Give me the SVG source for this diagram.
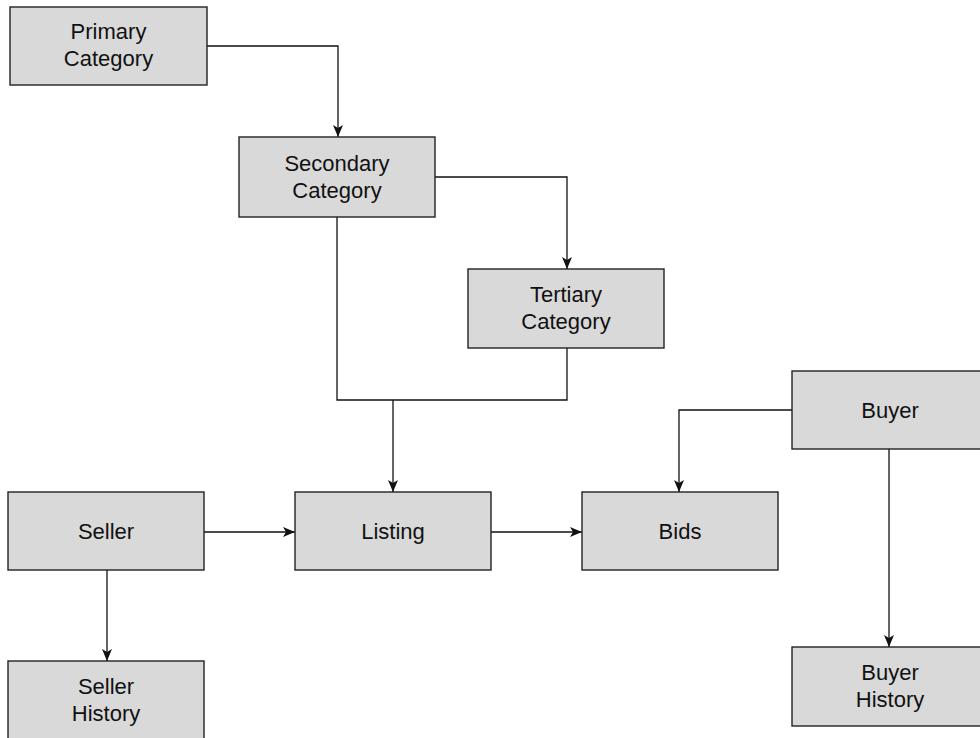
<svg xmlns="http://www.w3.org/2000/svg" width="980" height="738" viewBox="0 0 980 738">
<defs>
<marker id="arr" viewBox="0 0 12 10" refX="12" refY="5" markerWidth="12" markerHeight="10" markerUnits="userSpaceOnUse" orient="auto">
<path d="M0,0 L12,5 L0,10 L3,5 z" fill="#111"/>
</marker>
<style>
.box{fill:#d9d9d9;stroke:#222;stroke-width:1.4}
.lbl{font-family:"Liberation Sans",Arial,sans-serif;font-size:22px;fill:#111;text-anchor:middle}
.c{fill:none;stroke:#111;stroke-width:1.3}
</style>
</defs>
<rect width="980" height="738" fill="#fff"/>
<g id="connectors">
<path class="c" d="M207,46 H338 V137" marker-end="url(#arr)"/>
<path class="c" d="M435,177 H567 V269" marker-end="url(#arr)"/>
<path class="c" d="M337,217 V400 H567 V348"/>
<path class="c" d="M393,400 V492" marker-end="url(#arr)"/>
<path class="c" d="M204,532 H295" marker-end="url(#arr)"/>
<path class="c" d="M491,532 H582" marker-end="url(#arr)"/>
<path class="c" d="M107,570 V661" marker-end="url(#arr)"/>
<path class="c" d="M792,410 H679 V492" marker-end="url(#arr)"/>
<path class="c" d="M889,449 V647" marker-end="url(#arr)"/>
</g>
<g id="primary"><rect class="box" x="10" y="7" width="197" height="78"/><text class="lbl" x="108.5" y="39">Primary</text><text class="lbl" x="108.5" y="66">Category</text></g>
<g id="secondary"><rect class="box" x="239" y="137" width="196" height="80"/><text class="lbl" x="337" y="171">Secondary</text><text class="lbl" x="337" y="198">Category</text></g>
<g id="tertiary"><rect class="box" x="468" y="269" width="196" height="79"/><text class="lbl" x="566" y="302">Tertiary</text><text class="lbl" x="566" y="329">Category</text></g>
<g id="seller"><rect class="box" x="8" y="492" width="196" height="78"/><text class="lbl" x="106" y="539">Seller</text></g>
<g id="listing"><rect class="box" x="295" y="492" width="196" height="78"/><text class="lbl" x="393" y="539">Listing</text></g>
<g id="bids"><rect class="box" x="582" y="492" width="196" height="78"/><text class="lbl" x="680" y="539">Bids</text></g>
<g id="buyer"><rect class="box" x="792" y="371" width="196" height="78"/><text class="lbl" x="890" y="418">Buyer</text></g>
<g id="sellerhistory"><rect class="box" x="8" y="661" width="196" height="79"/><text class="lbl" x="106" y="694">Seller</text><text class="lbl" x="106" y="721">History</text></g>
<g id="buyerhistory"><rect class="box" x="792" y="647" width="196" height="79"/><text class="lbl" x="890" y="680">Buyer</text><text class="lbl" x="890" y="707">History</text></g>
</svg>
